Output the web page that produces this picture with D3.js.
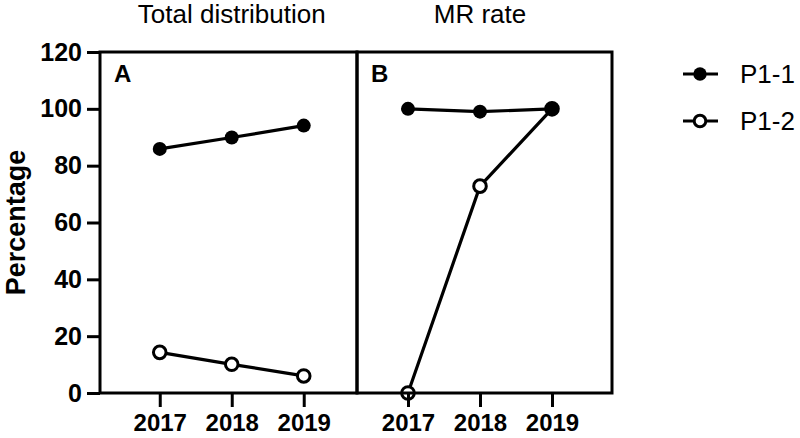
<!DOCTYPE html>
<html><head><meta charset="utf-8">
<script src="https://cdn.jsdelivr.net/npm/d3@7"></script>
<style>body{margin:0;background:#fff}svg{display:block}text{font-family:"Liberation Sans",Arial,sans-serif}</style>
</head><body>
<script>
const years = [2017, 2018, 2019];
const panelTitles = ["Total distribution", "MR rate"];
const panelLetters = ["A", "B"];
const seriesNames = ["P1-1", "P1-2"];
// Panel A: Total distribution
const totalP11 = [85.9, 89.9, 94.1];
const totalP12 = [14.3, 10.1, 6.0];
// Panel B: MR rate
const mrP11 = [100, 99, 100];
const mrP12 = [0, 72.8, 100];
const yTicks = [0, 20, 40, 60, 80, 100, 120];
const yLabel = "Percentage";

const W = 800, H = 438;
const svg = d3.select("body").append("svg").attr("width", W).attr("height", H);
const y = d3.scaleLinear().domain([0, 120]).range([393, 52]);
const xA = d3.scaleLinear().domain([2016.17, 2019.74]).range([100, 357]);
const xB = d3.scaleLinear().domain([2016.292, 2019.833]).range([357, 612]);

const panels = [
  {x: xA, s1: totalP11, s2: totalP12, title: panelTitles[0], letter: panelLetters[0]},
  {x: xB, s1: mrP11, s2: mrP12, title: panelTitles[1], letter: panelLetters[1]}
];
const FONT = '"Liberation Sans",Arial,sans-serif';

panels.forEach(p => {
  const line = d3.line().x((d, i) => p.x(years[i])).y(d => y(d));
  // P1-2 first (open), then P1-1 (filled) on top
  svg.append("path").datum(p.s2).attr("d", line).attr("fill", "none").attr("stroke", "#000").attr("stroke-width", 3.2);
  svg.append("path").datum(p.s1).attr("d", line).attr("fill", "none").attr("stroke", "#000").attr("stroke-width", 3.2);
  svg.selectAll(null).data(p.s2).join("circle").attr("cx", (d, i) => p.x(years[i])).attr("cy", d => y(d))
    .attr("r", 6.3).attr("fill", "#fff").attr("stroke", "#000").attr("stroke-width", 3);
  svg.selectAll(null).data(p.s1).join("circle").attr("cx", (d, i) => p.x(years[i])).attr("cy", d => y(d))
    .attr("r", 7).attr("fill", "#000");
});

panels.forEach(p => {
  const [x0, x1] = p.x.range();
  // frame
  svg.append("rect").attr("x", x0).attr("y", y(120)).attr("width", x1 - x0).attr("height", y(0) - y(120))
    .attr("fill", "none").attr("stroke", "#000").attr("stroke-width", 3);
  // x axis
  const xAx = svg.append("g").attr("transform", `translate(0,${y(0)})`)
    .call(d3.axisBottom(p.x).tickValues(years).tickFormat(d3.format("d")).tickSize(14).tickSizeOuter(0).tickPadding(7));
  xAx.select(".domain").remove();
  xAx.selectAll("line").attr("stroke", "#000").attr("stroke-width", 3);
  xAx.selectAll("text").attr("font-size", 24).attr("font-weight", "bold").attr("fill", "#000").style("font-family", FONT);
  // title
  svg.append("text").attr("x", p.x(2018)).attr("y", 23).attr("text-anchor", "middle")
    .attr("font-size", 26).text(p.title);
  svg.append("text").attr("x", x0 + 14).attr("y", 82).attr("font-size", 24).attr("font-weight", "bold").text(p.letter);
});

// Y axis
const yAx = svg.append("g").attr("transform", "translate(100,0)")
  .call(d3.axisLeft(y).tickValues(yTicks).tickSize(13).tickSizeOuter(0).tickPadding(5));
yAx.select(".domain").remove();
yAx.selectAll("line").attr("stroke", "#000").attr("stroke-width", 3);
yAx.selectAll("text").attr("font-size", 25).attr("font-weight", "bold").attr("fill", "#000").style("font-family", FONT);

svg.append("text").attr("transform", `translate(25,${(y(0)+y(120))/2}) rotate(-90)`)
  .attr("text-anchor", "middle").attr("font-size", 27).attr("font-weight", "bold").text(yLabel);

// Legend
const leg = svg.append("g");
seriesNames.forEach((n, i) => {
  const ly = 74 + i * 47;
  leg.append("line").attr("x1", 683).attr("x2", 718).attr("y1", ly).attr("y2", ly).attr("stroke", "#000").attr("stroke-width", 3.2);
  if (i === 0) leg.append("circle").attr("cx", 700).attr("cy", ly).attr("r", 6.7).attr("fill", "#000");
  else leg.append("circle").attr("cx", 700).attr("cy", ly).attr("r", 5.8).attr("fill", "#fff").attr("stroke", "#000").attr("stroke-width", 3);
  leg.append("text").attr("x", 740).attr("y", ly).attr("dy", "0.35em").attr("font-size", 26).text(n);
});
</script>
</body></html>
